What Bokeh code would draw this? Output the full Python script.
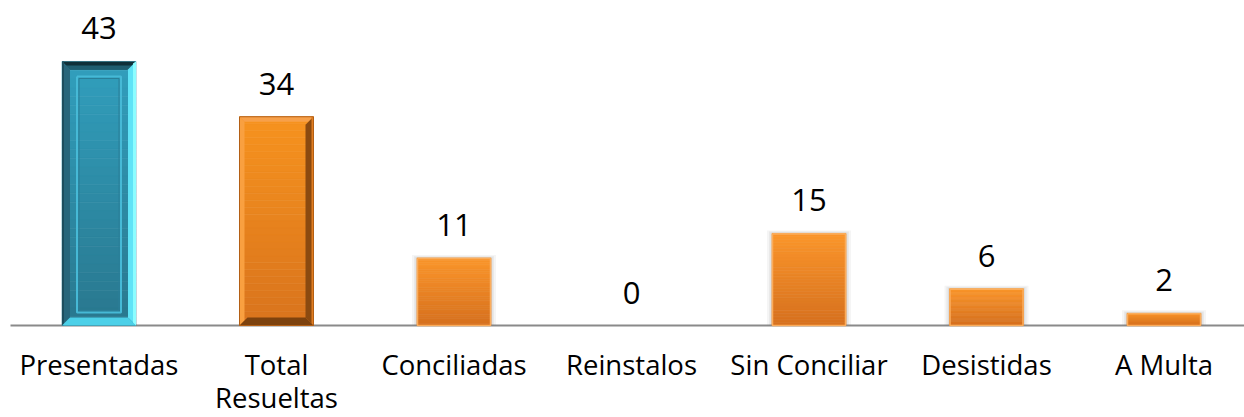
from bokeh.plotting import figure
from bokeh.models import Range1d
from bokeh.core.properties import value
from bokeh.embed import file_html
from bokeh.resources import INLINE

# ---- data ----
categories = ["Presentadas", "Total\nResueltas", "Conciliadas", "Reinstalos",
              "Sin Conciliar", "Desistidas", "A Multa"]
values = [43, 34, 11, 0, 15, 6, 2]
styles = ["teal", "orange_bevel", "orange", "orange", "orange", "orange", "orange"]

# ---- layout ----
W, H = 1244, 417
PX_X = 177.5      # px per category
PX_Y = 6.14       # px per unit
X0_PX = 98.5      # px of first category centre
BASE_PX = 325     # px of baseline from top
x_start = -X0_PX / PX_X
x_end = x_start + W / PX_X
y_start = -(H - BASE_PX) / PX_Y
y_end = BASE_PX / PX_Y

p = figure(width=W, height=H, x_range=Range1d(x_start, x_end),
           y_range=Range1d(y_start, y_end), output_backend="svg",
           toolbar_location=None, min_border=0, min_border_left=0,
           min_border_right=0, min_border_top=0, min_border_bottom=0)
p.axis.visible = False
p.grid.visible = False
p.outline_line_color = None
p.background_fill_color = "white"
p.border_fill_color = "white"

HALF = 37 / PX_X
BX = 8 / PX_X
BY = 8 / PX_Y
px = lambda n: n / PX_X
py = lambda n: n / PX_Y

# baseline axis line
p.segment(x0=[x_start + px(10)], y0=[0], x1=[x_end], y1=[0],
          line_color="#8a8a8a", line_width=2)


def hex2rgb(h):
    h = h.lstrip("#")
    return tuple(int(h[i:i + 2], 16) for i in (0, 2, 4))


def mix(a, b, t):
    ra, rb = hex2rgb(a), hex2rgb(b)
    return "#%02x%02x%02x" % tuple(round(ra[i] + (rb[i] - ra[i]) * t) for i in range(3))


def gradient(L, R, T, B, ctop, cbot, n=30):
    lefts, rights, tops, bots, cols = [], [], [], [], []
    for k in range(n):
        hi = T - (T - B) * k / n
        lo = T - (T - B) * (k + 1) / n
        lefts.append(L); rights.append(R); tops.append(hi); bots.append(lo)
        cols.append(mix(ctop, cbot, (k + 0.5) / n))
    p.quad(left=lefts, right=rights, top=tops, bottom=bots, fill_color=cols,
           line_color=cols, line_width=0.6)


def poly(xs, ys, color, alpha=1.0):
    p.patch(xs, ys, fill_color=color, line_color=None, fill_alpha=alpha)


for i, (v, st) in enumerate(zip(values, styles)):
    if v <= 0:
        continue
    L, R, T, B = i - HALF, i + HALF, v, 0
    if st == "teal":
        gradient(L, R, T, B, "#319fbd", "#29778e")
        poly([L, R, R - BX, L + BX], [T, T, T - BY, T - BY], "#0f3039")
        poly([L + px(3), R - px(3), R - BX, L + BX], [T - py(4), T - py(4), T - BY, T - BY], "#1f5e70")
        poly([L, L + BX, L + BX, L], [T, T - BY, B + BY, B], "#27667b")
        poly([L, L + px(2), L + px(2), L], [T, T, B, B], "#1d4e5e")
        poly([R, R, R - BX, R - BX], [T, B, B + BY, T - BY], "#5fe3f7")
        poly([R - px(3), R, R, R - px(3)], [T - py(2), T, B, B + py(2)], "#8cfdff")
        poly([L, R, R - BX, L + BX], [B, B, B + BY, B + BY], "#4cd0e8")
        iL, iR, iT, iB = L + px(15), R - px(15), T - py(15), B + py(13)
        p.line([iL, iR, iR, iL, iL], [iT, iT, iB, iB, iT], line_color="#46b9d6", line_width=2)
        p.line([iL + px(2), iR - px(2), iR - px(2), iL + px(2), iL + px(2)],
               [iT - py(2), iT - py(2), iB + py(2), iB + py(2), iT - py(2)],
               line_color="#2a7f98", line_width=1)
    elif st == "orange_bevel":
        gradient(L, R, T, B, "#f7931e", "#d8731d")
        poly([L, L + px(5), L + px(5), L], [T, T - py(5), B + py(5), B], "#f9a040")
        poly([L, R, R - px(5), L + px(5)], [T, T, T - py(5), T - py(5)], "#f7a04a")
        poly([R, R, R - BX, R - BX], [T, B, B + BY, T - BY], "#8b4a10")
        poly([R - px(2), R, R, R - px(2)], [T, T, B, B], "#e07d22")
        poly([L, R, R - BX, L + BX], [B, B, B + BY, B + BY], "#7d420e")
        p.line([L, R, R, L, L], [T, T, B, B, T], line_color="#b35f14", line_width=1)
    else:
        for g, a in ((5, 0.08), (3, 0.10), (1.5, 0.12)):
            p.quad(left=[L - px(g)], right=[R + px(g)], top=[T + py(g * 0.6)], bottom=[B],
                   fill_color="#808080", fill_alpha=a, line_color=None)
        gradient(L, R, T, B, "#fb962b", "#d6701e")
        p.line([L + px(0.5), R - px(0.5), R - px(0.5), L + px(0.5), L + px(0.5)],
               [T - py(0.5), T - py(0.5), B, B, T - py(0.5)],
               line_color="#fbad5c", line_width=1.5)

# value labels
lab_y = [v + py(33) for v in values]
p.text(x=list(range(len(values))), y=lab_y, text=[str(v) for v in values],
       text_font=value("Open Sans"), text_font_size="31px", text_color="#000000",
       text_align="center", text_baseline="alphabetic")

# category labels (multi-line split)
line1 = [c.split("\n")[0] for c in categories]
p.text(x=list(range(len(categories))), y=[-py(39)] * len(categories), text=line1,
       text_font=value("Open Sans"), text_font_size="27.5px", text_color="#000000",
       text_align="center", text_baseline="alphabetic")
xs2 = [i for i, c in enumerate(categories) if "\n" in c]
line2 = [c.split("\n")[1] for c in categories if "\n" in c]
p.text(x=xs2, y=[-py(72)] * len(xs2), text=line2,
       text_font=value("Open Sans"), text_font_size="27.5px", text_color="#000000",
       text_align="center", text_baseline="alphabetic")

open("out.html", "w").write(file_html(p, INLINE))
